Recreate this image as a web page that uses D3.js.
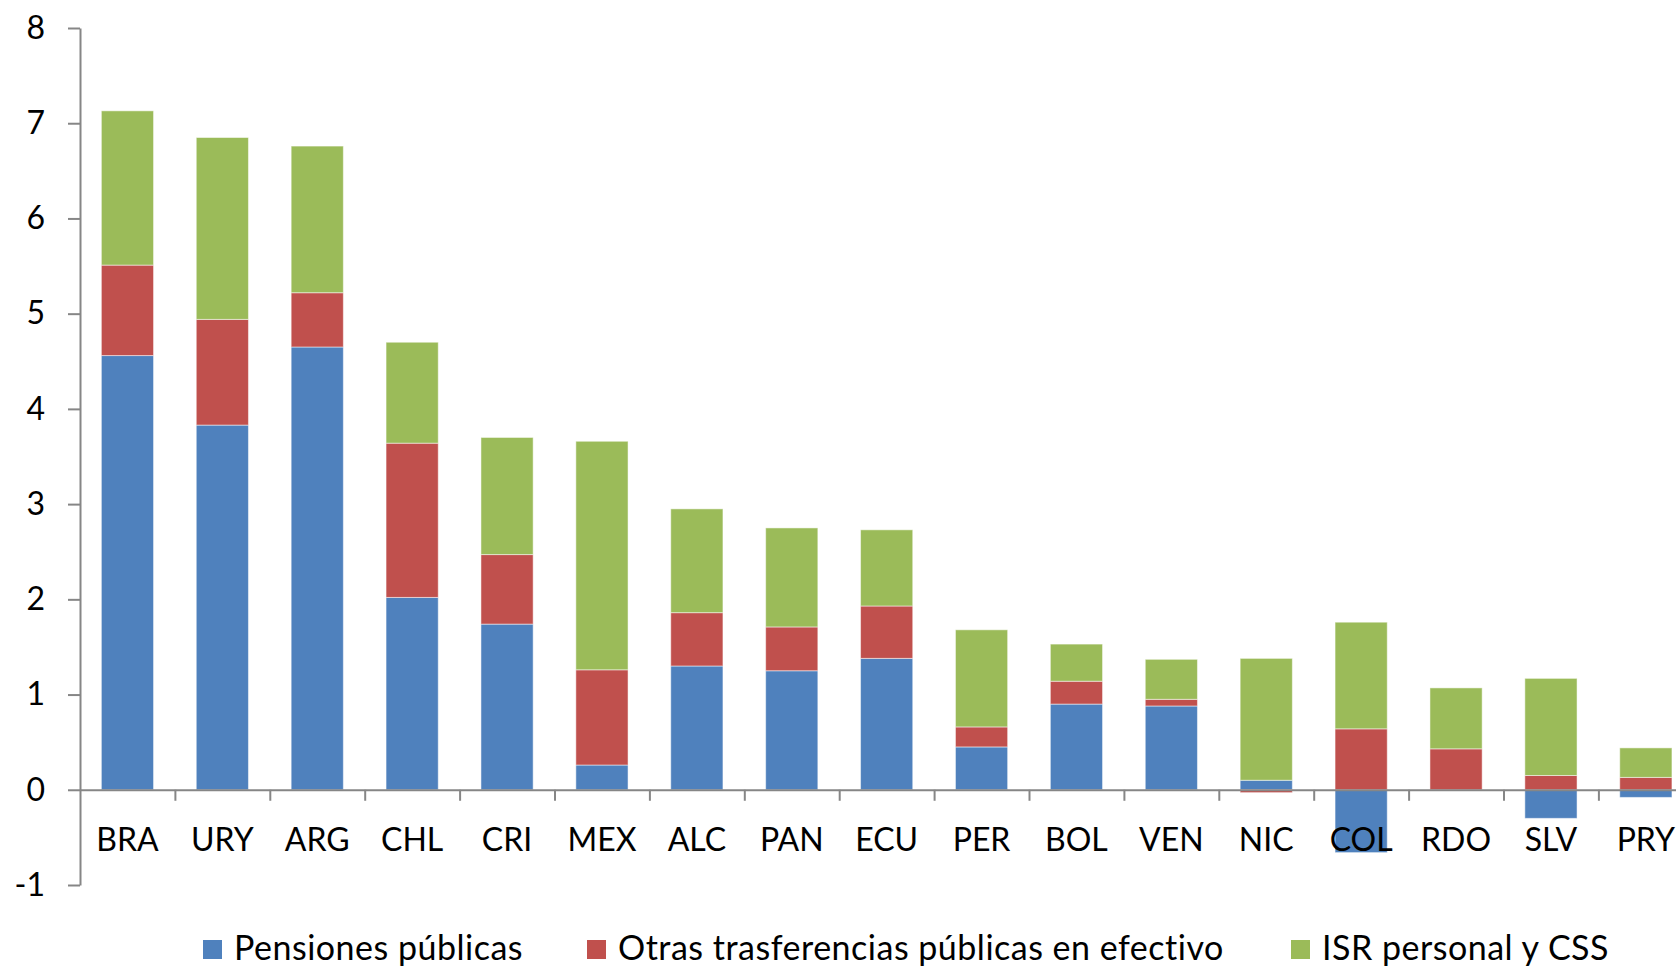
<!DOCTYPE html>
<html>
<head>
<meta charset="utf-8">
<script src="https://cdn.jsdelivr.net/npm/d3@7"></script>
<style>
  body { margin: 0; background: #fff; }
  text { font-family: Lato, "Open Sans", sans-serif; fill: #000; }
  .axis path, .axis line { stroke: #868686; stroke-width: 2; }
</style>
</head>
<body>
<div id="graph"></div>
<script>

// data
var countries = ["BRA","URY","ARG","CHL","CRI","MEX","ALC","PAN","ECU","PER","BOL","VEN","NIC","COL","RDO","SLV","PRY"];
var pensiones = [4.56, 3.83, 4.65, 2.02, 1.74, 0.26, 1.30, 1.25, 1.38, 0.45, 0.90, 0.88, 0.10, -0.66, 0.00, -0.30, -0.08];
var otras     = [0.95, 1.11, 0.57, 1.62, 0.73, 1.00, 0.56, 0.46, 0.55, 0.21, 0.24, 0.07, -0.03, 0.64, 0.43, 0.15, 0.13];
var isr       = [1.62, 1.91, 1.54, 1.06, 1.23, 2.40, 1.09, 1.04, 0.80, 1.02, 0.39, 0.42, 1.28, 1.12, 0.64, 1.02, 0.31];
var yTicks = [-1, 0, 1, 2, 3, 4, 5, 6, 7, 8];
var seriesNames = ["Pensiones públicas", "Otras trasferencias públicas en efectivo", "ISR personal y CSS"];
var colors = ["#4F81BD", "#C0504D", "#9BBB59"];

function drawGraph(){
    var W = 1676, H = 968;
    var margin = {left: 80, top: 28};
    var plotRight = 80 + 17 * 94.9;   // plot runs past the right edge, as in the original

    var svg = d3.select("#graph").append("svg")
        .attr("width", W)
        .attr("height", H);

    // scales
    var yScale = d3.scaleLinear()
        .domain([-1, 8])
        .range([885, 28]);

    var xScale = d3.scaleBand()
        .domain(countries)
        .range([margin.left, plotRight])
        .paddingInner(0.45)
        .paddingOuter(0.225);

    var xEdge = d3.scaleLinear()
        .domain([0, countries.length])
        .range([margin.left, plotRight]);

    // stacked data
    var rows = countries.map(function(c, i){
        return {country: c, p: pensiones[i], o: otras[i], s: isr[i]};
    });
    var stack = d3.stack()
        .keys(["p", "o", "s"])
        .offset(d3.stackOffsetDiverging);
    var layers = stack(rows);

    // bars
    svg.selectAll(".layer")
        .data(layers)
        .enter().append("g")
        .attr("class", "layer")
        .attr("fill", function(d, i){ return colors[i]; })
        .selectAll("rect")
        .data(function(d){ return d; })
        .enter().append("rect")
        .attr("x", function(d){ return xScale(d.data.country); })
        .attr("width", xScale.bandwidth())
        .attr("y", function(d){ return yScale(Math.max(d[0], d[1])); })
        .attr("height", function(d){ return Math.abs(yScale(d[0]) - yScale(d[1])); })
        .attr("stroke", "rgba(255,255,255,0.5)")
        .attr("stroke-width", 1);

    // y axis (plain hyphen for the minus sign)
    svg.append("g")
        .attr("class", "axis")
        .attr("transform", "translate(" + margin.left + ",0)")
        .call(d3.axisLeft(yScale).tickValues(yTicks).tickSize(12).tickSizeOuter(0).tickPadding(23)
            .tickFormat(function(d){ return String(d); }))
        .call(function(g){
            g.selectAll("text").style("font-size", "32px").attr("fill", "#000");
        });

    // x axis on zero line, ticks between categories
    svg.append("g")
        .attr("class", "axis")
        .attr("transform", "translate(0," + yScale(0) + ")")
        .call(d3.axisBottom(xEdge).tickValues(d3.range(1, countries.length + 1)).tickSize(11).tickSizeOuter(0).tickFormat(""));

    // category labels
    svg.selectAll(".cat")
        .data(countries)
        .enter().append("text")
        .attr("class", "cat")
        .attr("x", function(d){ return xScale(d) + xScale.bandwidth() / 2; })
        .attr("y", 851)
        .attr("text-anchor", "middle")
        .style("font-size", "32px")
        .text(function(d){ return d; });

    // legend
    var legendX = [203, 587, 1291];
    var legend = svg.selectAll(".legend")
        .data(seriesNames)
        .enter().append("g")
        .attr("class", "legend")
        .attr("transform", function(d, i){ return "translate(" + legendX[i] + ",0)"; });

    legend.append("rect")
        .attr("y", 940)
        .attr("width", 19)
        .attr("height", 19)
        .attr("fill", function(d, i){ return colors[i]; });

    legend.append("text")
        .attr("x", 31)
        .attr("y", 960)
        .style("font-size", "34px")
        .style("letter-spacing", "0.5px")
        .text(function(d){ return d; });
}

drawGraph();
</script>
</body>
</html>
